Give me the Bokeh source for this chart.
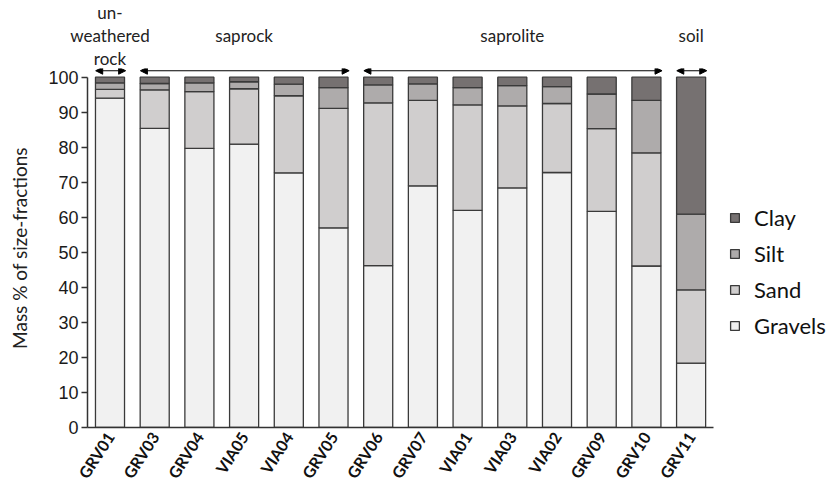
from bokeh.plotting import figure
from bokeh.models import (Range1d, FixedTicker, Legend, LegendItem,
                          Arrow, NormalHead)
from bokeh.core.properties import value
from bokeh.embed import file_html
from bokeh.resources import INLINE
import math

# ---- data ----
samples = ["GRV01", "GRV03", "GRV04", "VIA05", "VIA04", "GRV05", "GRV06",
           "GRV07", "VIA01", "VIA03", "VIA02", "GRV09", "GRV10", "GRV11"]
gravels = [94.0, 85.4, 79.7, 80.9, 72.7, 57.0, 46.2, 69.0, 62.0, 68.4, 72.8, 61.7, 46.1, 18.4]
sand    = [2.5, 11.0, 16.2, 15.8, 22.0, 34.1, 46.5, 24.4, 30.1, 23.4, 19.7, 23.6, 32.3, 20.9]
silt    = [1.9, 1.8, 2.5, 2.0, 3.3, 5.9, 5.1, 4.7, 4.9, 5.8, 4.8, 9.9, 15.0, 21.6]
clay    = [1.6, 1.8, 1.6, 1.3, 2.0, 3.0, 2.2, 1.9, 3.0, 2.4, 2.7, 4.8, 6.6, 39.1]

fractions = ["Gravels", "Sand", "Silt", "Clay"]
colors = ["#f1f1f1", "#d0cece", "#aeabab", "#767171"]

groups = ["un-\nweathered\nrock", "saprock", "saprolite", "soil"]
group_first = ["GRV01", "GRV03", "GRV06", "GRV11"]
group_last = ["GRV01", "GRV05", "GRV10", "GRV11"]

y_ticks = [0, 10, 20, 30, 40, 50, 60, 70, 80, 90, 100]
y_title = "Mass % of size-fractions"

# ---- layout parameters ----
LEFT = 87            # px left of the main plot frame
PX = 44.7            # px per bar slot
X0 = -22.5 / PX
X1 = X0 + (835 - LEFT) / PX
HEADER_H = 68
YPX = 3.5            # px per percent
Y100 = 76.7          # page y of the 100 % line

pos = list(range(len(samples)))
data = dict(x=pos, Gravels=gravels, Sand=sand, Silt=silt, Clay=clay)

# ---- main figure ----
p = figure(x_range=Range1d(X0, X1),
           y_range=Range1d(0, 100 + (Y100 - HEADER_H) / YPX),
           width=835, height=491 - HEADER_H, output_backend="svg",
           toolbar_location=None,
           min_border_left=LEFT, min_border_right=0,
           min_border_top=0, min_border_bottom=64)
p.outline_line_color = None
p.xgrid.visible = False
p.ygrid.visible = False

rs = p.vbar_stack(fractions, x="x", width=0.65, source=data,
                  fill_color=colors, line_color="#3a3a3a", line_width=1.3)

p.yaxis.bounds = (0, 100)
p.yaxis.ticker = FixedTicker(ticks=y_ticks)
p.yaxis.minor_tick_line_color = None
p.yaxis.major_tick_out = 6
p.yaxis.major_tick_in = 0
p.yaxis.axis_line_width = 1.5
p.yaxis.axis_line_color = "#333333"
p.yaxis.major_tick_line_color = "#333333"
p.yaxis.major_tick_line_width = 1.5
p.yaxis.major_label_text_font = "Liberation Sans"
p.yaxis.major_label_text_font_size = "18px"
p.yaxis.major_label_text_color = "#1a1a1a"
p.yaxis.major_label_standoff = 3
p.yaxis.axis_label = y_title
p.yaxis.axis_label_text_font = "Lato"
p.yaxis.axis_label_text_font_style = "normal"
p.yaxis.axis_label_text_font_size = "19px"
p.yaxis.axis_label_text_color = "#222222"
p.yaxis.axis_label_standoff = 14

p.xaxis.bounds = (X0, len(samples) - 0.5)
p.xaxis.ticker = FixedTicker(ticks=pos, minor_ticks=[])
p.xaxis.major_label_overrides = {i: s for i, s in enumerate(samples)}
p.xaxis.major_tick_out = 0
p.xaxis.major_tick_in = 0
p.xaxis.minor_tick_line_color = None
p.xaxis.axis_line_width = 1.5
p.xaxis.axis_line_color = "#333333"
p.xaxis.major_label_orientation = 1.0
p.xaxis.major_label_text_font = "Lato"
p.xaxis.major_label_text_font_style = "bold"
p.xaxis.major_label_text_font_size = "16px"
p.xaxis.major_label_text_color = "#111111"
p.xaxis.major_label_standoff = 6

# arrows above the bars
idx = {s: i for i, s in enumerate(samples)}
for a, b in zip(group_first, group_last):
    p.add_layout(Arrow(x_start=idx[a] - 0.32, x_end=idx[b] + 0.35, y_start=101.85, y_end=101.85,
                       line_width=1.2, line_color="black",
                       start=NormalHead(size=7, fill_color="black", line_color="black"),
                       end=NormalHead(size=7, fill_color="black", line_color="black")))

items = [LegendItem(label=f, renderers=[r]) for f, r in zip(fractions, rs)][::-1]
legend = Legend(items=items, location=(642, 88), margin=0, padding=4,
                glyph_width=11, glyph_height=11, label_standoff=14,
                label_height=22, spacing=9, border_line_color=None,
                background_fill_alpha=0,
                label_text_font="Lato", label_text_font_size="22px",
                label_text_color="#111111")
p.add_layout(legend, "center")

# ---- header figure (group labels) ----
h = figure(x_range=Range1d(X0 - LEFT / PX, X1),
           y_range=Range1d(100 + (Y100 - HEADER_H) / YPX, 100 + Y100 / YPX),
           width=835, height=HEADER_H, output_backend="svg",
           toolbar_location=None, x_axis_type=None, y_axis_type=None,
           min_border_left=0, min_border_right=0, min_border_top=0,
           min_border_bottom=0)
h.outline_line_color = None
h.xgrid.visible = False
h.ygrid.visible = False

gx = [(idx[a] + idx[b]) / 2 for a, b in zip(group_first, group_last)]
h.text(x=gx, y=[111.8] * len(groups), text=groups, text_align="center",
       text_baseline="middle", text_font=value("Lato"), text_font_size="17px",
       text_color="#222222", text_line_height=1.1)

open("out.html", "w").write(file_html([h, p], INLINE))
